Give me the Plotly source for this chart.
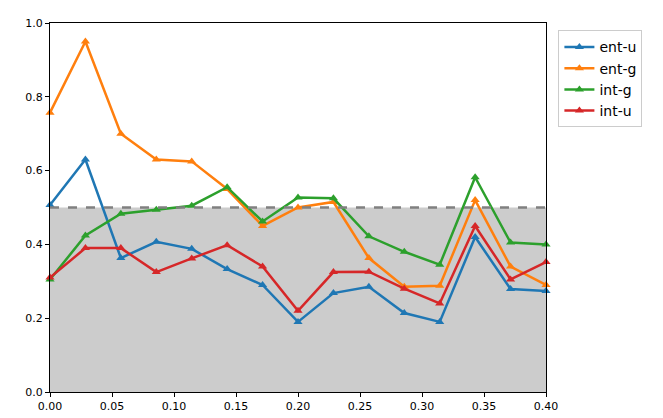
import plotly.graph_objects as go

x = [i * 0.4 / 14 for i in range(15)]
ent_u = [0.507, 0.63, 0.363, 0.407, 0.388, 0.333, 0.29, 0.19, 0.268, 0.285, 0.214, 0.19, 0.42, 0.279, 0.274]
ent_g = [0.757, 0.95, 0.70, 0.63, 0.625, 0.55, 0.45, 0.50, 0.515, 0.363, 0.285, 0.288, 0.52, 0.34, 0.29]
int_g = [0.305, 0.424, 0.483, 0.494, 0.505, 0.555, 0.462, 0.527, 0.525, 0.422, 0.38, 0.345, 0.582, 0.405, 0.40]
int_u = [0.31, 0.39, 0.39, 0.325, 0.362, 0.398, 0.34, 0.22, 0.325, 0.326, 0.28, 0.24, 0.45, 0.305, 0.352]
threshold = 0.5

SERIES = [
    ("ent-u", ent_u, "#1f77b4"),
    ("ent-g", ent_g, "#ff7f0e"),
    ("int-g", int_g, "#2ca02c"),
    ("int-u", int_u, "#d62728"),
]

fig = go.Figure()
for name, y, color in SERIES:
    fig.add_trace(go.Scatter(
        x=x, y=y, name=name, mode="lines+markers",
        line={"color": color, "width": 2.5},
        marker={"symbol": "triangle-up", "size": 8, "color": color},
        cliponaxis=False,
    ))

fig.add_shape(type="rect", xref="x domain", yref="y", x0=0, x1=1, y0=0, y1=threshold,
              fillcolor="#cccccc", line={"width": 0}, layer="below")
fig.add_shape(type="line", xref="x domain", yref="y", x0=0, x1=1, y0=threshold, y1=threshold,
              line={"color": "gray", "width": 2.5, "dash": "dash"})

axis = dict(showline=True, mirror=True, linecolor="black", linewidth=1, ticks="outside",
            ticklen=4, tickcolor="black", showgrid=False, zeroline=False, automargin=False)
fig.update_xaxes(range=[0, 0.4], dtick=0.05, tickformat=".2f", **axis)
fig.update_yaxes(range=[0, 1], dtick=0.2, tickformat=".1f", **axis)
fig.update_layout(
    width=663, height=418,
    margin={"l": 42, "r": 125, "t": 15, "b": 34},
    paper_bgcolor="white", plot_bgcolor="white",
    font={"family": "DejaVu Sans", "size": 11, "color": "black"},
    legend={"x": 1.025, "y": 0.98, "xanchor": "left", "yanchor": "top",
            "bordercolor": "#cccccc", "borderwidth": 1, "font": {"size": 14}},
)
fig.write_html("out.html")
